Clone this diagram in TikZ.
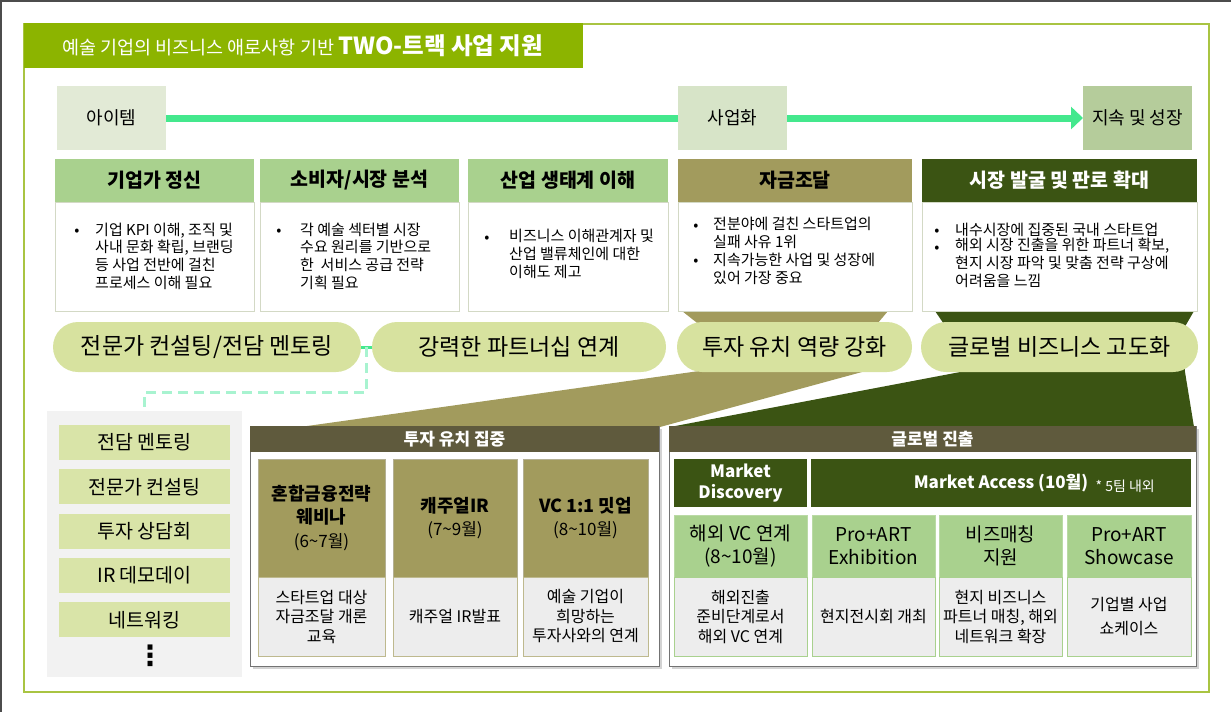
\documentclass[tikz,border=0pt]{standalone}
\usepackage{fontspec}
\setmainfont{Noto Sans CJK KR}
\newfontfamily\symfont{DejaVu Sans}
\usetikzlibrary{arrows.meta,positioning,shadows,calc}
\definecolor{ctitle}{HTML}{8CB400}
\definecolor{cframe}{HTML}{A9C442}
\definecolor{cstageA}{HTML}{E2EAD6}
\definecolor{cstageB}{HTML}{D7E4C8}
\definecolor{cstageC}{HTML}{B5CC9B}
\definecolor{cflow}{HTML}{44E88D}
\definecolor{clink}{HTML}{A8F3D0}
\definecolor{clgreen}{HTML}{A9D18E}
\definecolor{ctan}{HTML}{A29B5D}
\definecolor{cdark}{HTML}{3B5413}
\definecolor{cpill}{HTML}{D7E29F}
\definecolor{cbrown}{HTML}{5F5A3D}
\definecolor{cside}{HTML}{F2F2F2}
\definecolor{citem}{HTML}{D9E4A8}
\definecolor{cpale}{HTML}{EDEDED}
\definecolor{cedge}{HTML}{D3D9C5}
\newcommand{\fs}[2]{\fontsize{#1}{#2}\selectfont}
\newcommand{\tilda}{\textasciitilde}

\begin{document}
\begin{tikzpicture}[
    x=1pt, y=-1pt,
    box/.style={anchor=north west, inner sep=0pt, outer sep=0pt},
    stagebox/.style={box, minimum width=109pt, minimum height=64pt, font=\fs{18}{20}},
    hdr/.style={box, minimum height=43pt, font=\bfseries\fs{19.5}{22}},
    body/.style={box, minimum height=109pt, fill=white, draw=cedge, line width=0.8pt},
    bulletdot/.style={anchor=base, inner sep=0pt, font=\fs{15}{17.6}},
    btext/.style={anchor=base west, inner sep=0pt, align=left, font=\fs{15}{17.6}},
    pill/.style={box, minimum height=50pt, rounded corners=25pt, fill=cpill, font=\fs{23}{26}},
    flow/.style={cflow, line width=7pt},
    linkbar/.style={cflow, line width=3pt},
    dashlink/.style={clink, line width=3pt, dash pattern=on 10pt off 6pt},
    sideitem/.style={box, minimum width=171pt, minimum height=35pt, fill=citem, font=\fs{19.5}{22}},
    panel/.style={box, fill=white, draw=black!55, line width=0.8pt,
                  drop shadow={shadow xshift=3pt, shadow yshift=-3pt, opacity=0.35}},
    panelhdr/.style={box, minimum height=26pt, fill=cbrown, text=white, font=\bfseries\fs{17}{19}},
    tantop/.style={box, minimum height=118pt, fill=ctan, draw=ctan!80!black!60, line width=0.6pt,
                   align=center, font=\bfseries\fs{18}{23.5}},
    greentop/.style={box, minimum height=62pt, fill=clgreen, draw=clgreen!80, line width=0.6pt,
                     align=center, font=\fs{19}{23}},
    graybot/.style={box, minimum height=79pt, fill=cpale, line width=0.8pt,
                    align=center, font=\fs{16}{19.5}},
    mkbox/.style={box, minimum height=48pt, fill=cdark, text=white, align=center,
                  font=\bfseries\fs{17}{21}},
]
\useasboundingbox (0,0) rectangle (1231,712);

% Frame and title
\draw[black!70, line width=1.5pt] (0,0.75) -- (1231,0.75);
\draw[black!70, line width=1.5pt] (0.75,0) -- (0.75,712);
\draw[cframe, line width=1.2pt] (24,24) rectangle (1209,692);
\node[box, fill=ctitle, minimum width=559pt, minimum height=45pt] (titlebar) at (24,23) {};
\node[anchor=west, inner sep=0pt, text=white] (titletext) at (62,46)
    {{\fs{18.5}{20}예술 기업의 비즈니스 애로사항 기반 }{\bfseries\fs{23.5}{25}TWO-트랙 사업 지원}};

% Stages
\node[stagebox, fill=cstageA] (item) at (57,86) {아이템};
\node[stagebox, fill=cstageB] (biz) at (678,86) {사업화};
\node[stagebox, fill=cstageC] (grow) at (1083,86) {지속 및 성장};
\draw[flow] (item.east) -- (biz.west);
\draw[flow, -{Triangle[length=12pt, width=22pt]}] (biz.east) -- (grow.west);

% Funnels behind the pills
\fill[ctan] (682,311) -- (888,311) -- (872,330) -- (862,372) -- (660,427)
    -- (300,427) -- (742,365) -- (706,330) -- cycle;
\fill[cdark] (935,311) -- (1194,311) -- (1183,330) -- (1185,372) -- (1194,427)
    -- (670,427) -- (1013,362) -- (948,330) -- cycle;

% Problem headers
\node[hdr, fill=clgreen, minimum width=199pt] (h1) at (55,159) {기업가 정신};
\node[hdr, fill=clgreen, minimum width=199pt] (h2) at (260,159) {소비자/시장 분석};
\node[hdr, fill=clgreen, minimum width=200pt] (h3) at (468,159) {산업 생태계 이해};
\node[hdr, fill=ctan, minimum width=234pt] (h4) at (678,159) {자금조달};
\node[hdr, fill=cdark, text=white, minimum width=275pt] (h5) at (922,159) {시장 발굴 및 판로 확대};
\node[body, minimum width=199pt] (b1) at (55,202) {};
\node[body, minimum width=199pt] (b2) at (260,202) {};
\node[body, minimum width=200pt] (b3) at (468,202) {};
\node[body, minimum width=234pt] (b4) at (678,202) {};
\node[body, minimum width=275pt] (b5) at (922,202) {};

% Bullets (text nodes sit on the baseline of their last line)
\node[bulletdot] (b1d) at (77,235) {•};
\node[btext] (b1t) at (95,288) {기업 KPI 이해, 조직 및\\사내 문화 확립, 브랜딩\\등 사업 전반에 걸친\\프로세스 이해 필요};
\node[bulletdot] (b2d) at (279,235) {•};
\node[btext] (b2t) at (300,288) {각 예술 섹터별 시장\\수요 원리를 기반으로\\한\ \ 서비스 공급 전략\\기획 필요};
\node[bulletdot] (b3d) at (487,242) {•};
\node[btext] (b3t) at (509,277) {비즈니스 이해관계자 및\\산업 밸류체인에 대한\\이해도 제고};
\node[bulletdot] (b4d) at (696,230) {•};
\node[btext] (b4t) at (713,247) {전분야에 걸친 스타트업의\\실패 사유 1위};
\node[bulletdot] (b4e) at (696,265) {•};
\node[btext] (b4u) at (713,283) {지속가능한 사업 및 성장에\\있어 가장 중요};
\node[bulletdot] (b5d) at (937,235) {•};
\node[btext] (b5t) at (955,235) {내수시장에 집중된 국내 스타트업};
\node[bulletdot] (b5e) at (937,252) {•};
\node[btext] (b5u) at (955,286) {해외 시장 진출을 위한 파트너 확보,\\현지 시장 파악 및 맞춤 전략 구상에\\어려움을 느낌};

% Support pills
\node[pill, minimum width=308pt] (p1) at (53,322) {전문가 컨설팅/전담 멘토링};
\node[pill, minimum width=294pt] (p2) at (372,322) {강력한 파트너십 연계};
\node[pill, minimum width=235pt] (p3) at (677,322) {투자 유치 역량 강화};
\node[pill, minimum width=277pt] (p4) at (921,322) {글로벌 비즈니스 고도화};

% Mentoring list
\node[box, fill=cside, minimum width=195pt, minimum height=266pt] (side) at (47,411) {};
\draw[linkbar] (p1.east) -- (p2.west);
\coordinate (linkjoin) at ($(p1.east)!0.5!(p2.west)$);
\draw[dashlink] (linkjoin) -- ++(0,45) -| (side.north);
\foreach \txt [count=\i] in {전담 멘토링, 전문가 컨설팅, 투자 상담회, IR 데모데이, 네트워킹}
    \node[sideitem] (side\i) at (59,{425+(\i-1)*44.3}) {\txt};
\node[inner sep=0pt, font=\symfont\bfseries\fs{28}{28}] (sidedots) at (150,656) {⋮};

% Investment panel
\node[panel, minimum width=409pt, minimum height=240pt] (invest) at (250,426) {};
\node[panelhdr, minimum width=409pt] (investhdr) at (250,426) {투자 유치 집중};
\node[tantop, minimum width=127pt] (inv1) at (258,459) {혼합금융전략\\웨비나\\{\mdseries\fs{17}{23.5}(6\tilda7월)}};
\node[tantop, minimum width=124pt] (inv2) at (393,459) {캐주얼IR\\{\mdseries\fs{17}{23.5}(7\tilda9월)}};
\node[tantop, minimum width=125pt] (inv3) at (523,459) {VC 1:1 밋업\\{\mdseries\fs{17}{23.5}(8\tilda10월)}};
\node[graybot, draw=ctan!70, minimum width=127pt] (inv1b) at (258,577) {스타트업 대상\\자금조달 개론\\교육};
\node[graybot, draw=ctan!70, minimum width=124pt] (inv2b) at (393,577) {캐주얼 IR발표};
\node[graybot, draw=ctan!70, minimum width=125pt] (inv3b) at (523,577) {예술 기업이\\희망하는\\투자사와의 연계};

% Global panel
\node[panel, minimum width=527pt, minimum height=240pt] (global) at (669,426) {};
\node[panelhdr, minimum width=527pt] (globalhdr) at (669,426) {글로벌 진출};
\node[mkbox, minimum width=133pt] (mdisc) at (674,459) {Market\\Discovery};
\node[mkbox, minimum width=380pt] (maccess) at (811,459) {};
\node[inner sep=0pt, text=white, font=\bfseries\fs{17}{19}] (accesstxt) at (maccess.center) {Market Access (10월)};
\node[anchor=base west, inner sep=0pt, text=white, font=\fs{14}{16}] (accessnote)
    at ([xshift=7pt, yshift=-3pt]accesstxt.base east) {* 5팀 내외};
\node[greentop, minimum width=133pt] (glo1) at (674,515) {해외 VC 연계\\(8\tilda10월)};
\node[greentop, minimum width=123pt] (glo2) at (812,515) {Pro+ART\\Exhibition};
\node[greentop, minimum width=123pt] (glo3) at (939,515) {비즈매칭\\지원};
\node[greentop, minimum width=124pt] (glo4) at (1067,515) {Pro+ART\\Showcase};
\node[graybot, draw=clgreen, minimum width=133pt] (glo1b) at (674,577) {해외진출\\준비단계로서\\해외 VC 연계};
\node[graybot, draw=clgreen, minimum width=123pt] (glo2b) at (812,577) {현지전시회 개최};
\node[graybot, draw=clgreen, minimum width=123pt] (glo3b) at (939,577) {현지 비즈니스\\파트너 매칭, 해외\\네트워크 확장};
\node[graybot, draw=clgreen, minimum width=124pt, font=\fs{16}{24}] (glo4b) at (1067,577) {기업별 사업\\쇼케이스};

\end{tikzpicture}
\end{document}
